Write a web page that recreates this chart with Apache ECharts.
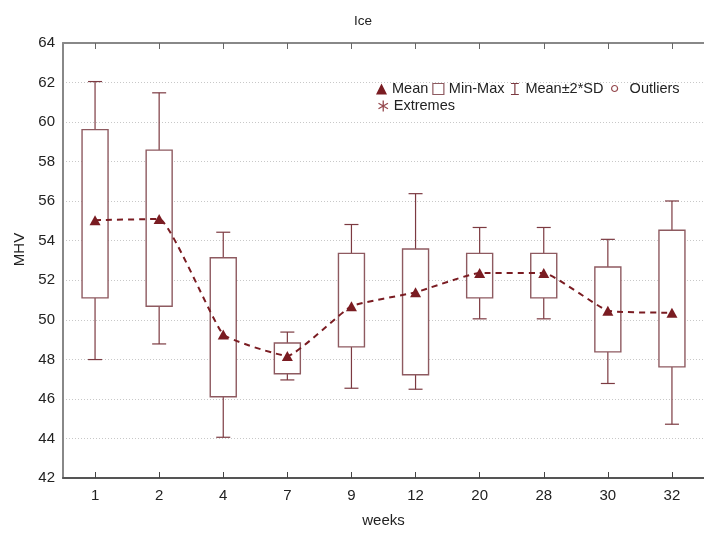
<!DOCTYPE html>
<html>
<head>
<meta charset="utf-8">
<script src="https://cdn.jsdelivr.net/npm/echarts@6/dist/echarts.min.js"></script>
<style>
  html, body { margin: 0; padding: 0; background: #fff; }
  #chart { width: 704px; height: 533px; }
</style>
</head>
<body>
<div id="chart"></div>
<script>
var weeks = ['1', '2', '4', '7', '9', '12', '20', '28', '30', '32'];
var meanVals = [55.04, 55.10, 49.26, 48.17, 50.69, 51.39, 52.37, 52.37, 50.46, 50.36];
var minVals = [51.11, 50.69, 46.11, 47.27, 48.63, 47.22, 51.11, 51.11, 48.38, 47.62];
var maxVals = [59.62, 58.58, 53.14, 48.83, 53.36, 53.58, 53.36, 53.36, 52.67, 54.53];
var sdLow = [47.99, 48.78, 44.06, 46.96, 46.54, 46.49, 50.05, 50.05, 46.78, 44.72];
var sdHigh = [62.05, 61.48, 54.43, 49.38, 54.82, 56.38, 54.67, 54.67, 54.07, 56.01];

var boxColor = '#8e5a60';
var whiskColor = '#7c3a41';
var meanColor = '#7a1c22';
var fontName = 'Liberation Sans';

var boxData = weeks.map(function (w, i) {
    return [i, minVals[i], maxVals[i], sdLow[i], sdHigh[i]];
});

function renderBox(params, api) {
    var i = api.value(0);
    var bLo = api.coord([i, api.value(1)]);
    var bHi = api.coord([i, api.value(2)]);
    var wLo = api.coord([i, api.value(3)]);
    var wHi = api.coord([i, api.value(4)]);
    var x = bLo[0];
    var bw = 26, cw = 14;
    var ls = { stroke: whiskColor, lineWidth: 1.2 };
    return {
        type: 'group',
        children: [
            { type: 'line', shape: { x1: x, y1: wHi[1], x2: x, y2: bHi[1] }, style: ls },
            { type: 'line', shape: { x1: x, y1: bLo[1], x2: x, y2: wLo[1] }, style: ls },
            { type: 'line', shape: { x1: x - cw / 2, y1: wHi[1], x2: x + cw / 2, y2: wHi[1] }, style: ls },
            { type: 'line', shape: { x1: x - cw / 2, y1: wLo[1], x2: x + cw / 2, y2: wLo[1] }, style: ls },
            {
                type: 'rect',
                shape: { x: x - bw / 2, y: bHi[1], width: bw, height: bLo[1] - bHi[1] },
                style: { fill: '#fff', stroke: boxColor, lineWidth: 1.4 }
            }
        ]
    };
}

var chart = echarts.init(document.getElementById('chart'));

var legendText = { color: '#222', fontFamily: fontName, fontSize: 14.5 };

var option = {
    backgroundColor: '#fff',
    animation: false,
    title: {
        text: 'Ice',
        left: 358,
        top: 9,
        textAlign: 'center',
        textStyle: { color: '#222', fontFamily: fontName, fontSize: 13.5, fontWeight: 'normal' }
    },
    legend: [{
        left: 376,
        top: 81,
        itemWidth: 11,
        itemHeight: 11,
        itemGap: 4,
        padding: 0,
        selectedMode: false,
        textStyle: legendText,
        data: [
            { name: 'Mean', icon: 'triangle', itemStyle: { color: meanColor } },
            { name: 'Min-Max', icon: 'rect', itemStyle: { color: '#fff', borderColor: boxColor, borderWidth: 1.2 } },
            { name: 'Mean±2*SD', icon: 'path://M0,0L10,0M5,0L5,14M0,14L10,14', itemStyle: { color: 'none', borderColor: whiskColor, borderWidth: 1.2 } }
        ]
    }, {
        left: 611,
        top: 81,
        itemWidth: 6,
        itemHeight: 6,
        padding: 0,
        selectedMode: false,
        textStyle: Object.assign({ padding: [0, 0, 0, 7] }, legendText),
        data: [
            { name: 'Outliers', icon: 'circle', itemStyle: { color: '#fff', borderColor: meanColor, borderWidth: 1.2 } }
        ]
    }, {
        left: 376,
        top: 98,
        itemWidth: 11,
        itemHeight: 11,
        padding: 0,
        selectedMode: false,
        textStyle: legendText,
        data: [
            { name: 'Extremes', icon: 'path://M5,0L5,10M0.7,2.5L9.3,7.5M0.7,7.5L9.3,2.5', itemStyle: { color: 'none', borderColor: meanColor, borderWidth: 1.3 } }
        ]
    }],
    grid: { left: 63, top: 43, width: 648, height: 436 },
    xAxis: [{
        type: 'category',
        data: weeks,
        position: 'bottom',
        name: 'weeks',
        nameLocation: 'middle',
        nameGap: 35,
        nameTextStyle: { color: '#222', fontFamily: fontName, fontSize: 15 },
        axisLine: { lineStyle: { color: '#555', width: 2 } },
        axisTick: { show: true, inside: true, alignWithLabel: true, length: 6, lineStyle: { color: '#444', width: 1 } },
        axisLabel: { color: '#222', fontFamily: fontName, fontSize: 15, margin: 10 },
        splitLine: { show: false }
    }, {
        type: 'category',
        data: weeks,
        position: 'top',
        axisLine: { lineStyle: { color: '#888', width: 2 } },
        axisTick: { show: true, inside: true, alignWithLabel: true, length: 6, lineStyle: { color: '#666', width: 1 } },
        axisLabel: { show: false },
        splitLine: { show: false }
    }],
    yAxis: {
        type: 'value',
        min: 42,
        max: 64,
        interval: 2,
        name: 'MHV',
        nameLocation: 'middle',
        nameGap: 32,
        nameTextStyle: { color: '#222', fontFamily: fontName, fontSize: 15, padding: [0, 0, 0, 22] },
        axisLine: { show: true, lineStyle: { color: '#888', width: 2 } },
        axisTick: { show: false },
        axisLabel: { color: '#222', fontFamily: fontName, fontSize: 15, margin: 8 },
        splitLine: { show: true, lineStyle: { color: '#c8c8c8', type: [1, 2], width: 1 } }
    },
    series: [{
        name: 'Min-Max',
        type: 'custom',
        renderItem: renderBox,
        encode: { x: 0, y: [1, 2, 3, 4] },
        data: boxData,
        z: 2
    }, {
        name: 'Mean±2*SD',
        type: 'custom',
        renderItem: function () { return null; },
        data: []
    }, {
        name: 'Mean',
        type: 'line',
        data: meanVals,
        smooth: 0.12,
        symbol: 'triangle',
        symbolSize: [11, 10],
        itemStyle: { color: meanColor },
        lineStyle: { color: meanColor, width: 2, type: [6, 5] },
        z: 5
    }, {
        name: 'Outliers',
        type: 'scatter',
        data: []
    }, {
        name: 'Extremes',
        type: 'scatter',
        data: []
    }]
};

chart.setOption(option);

window.onresize = function () {
    chart.resize();
};
</script>
</body>
</html>
